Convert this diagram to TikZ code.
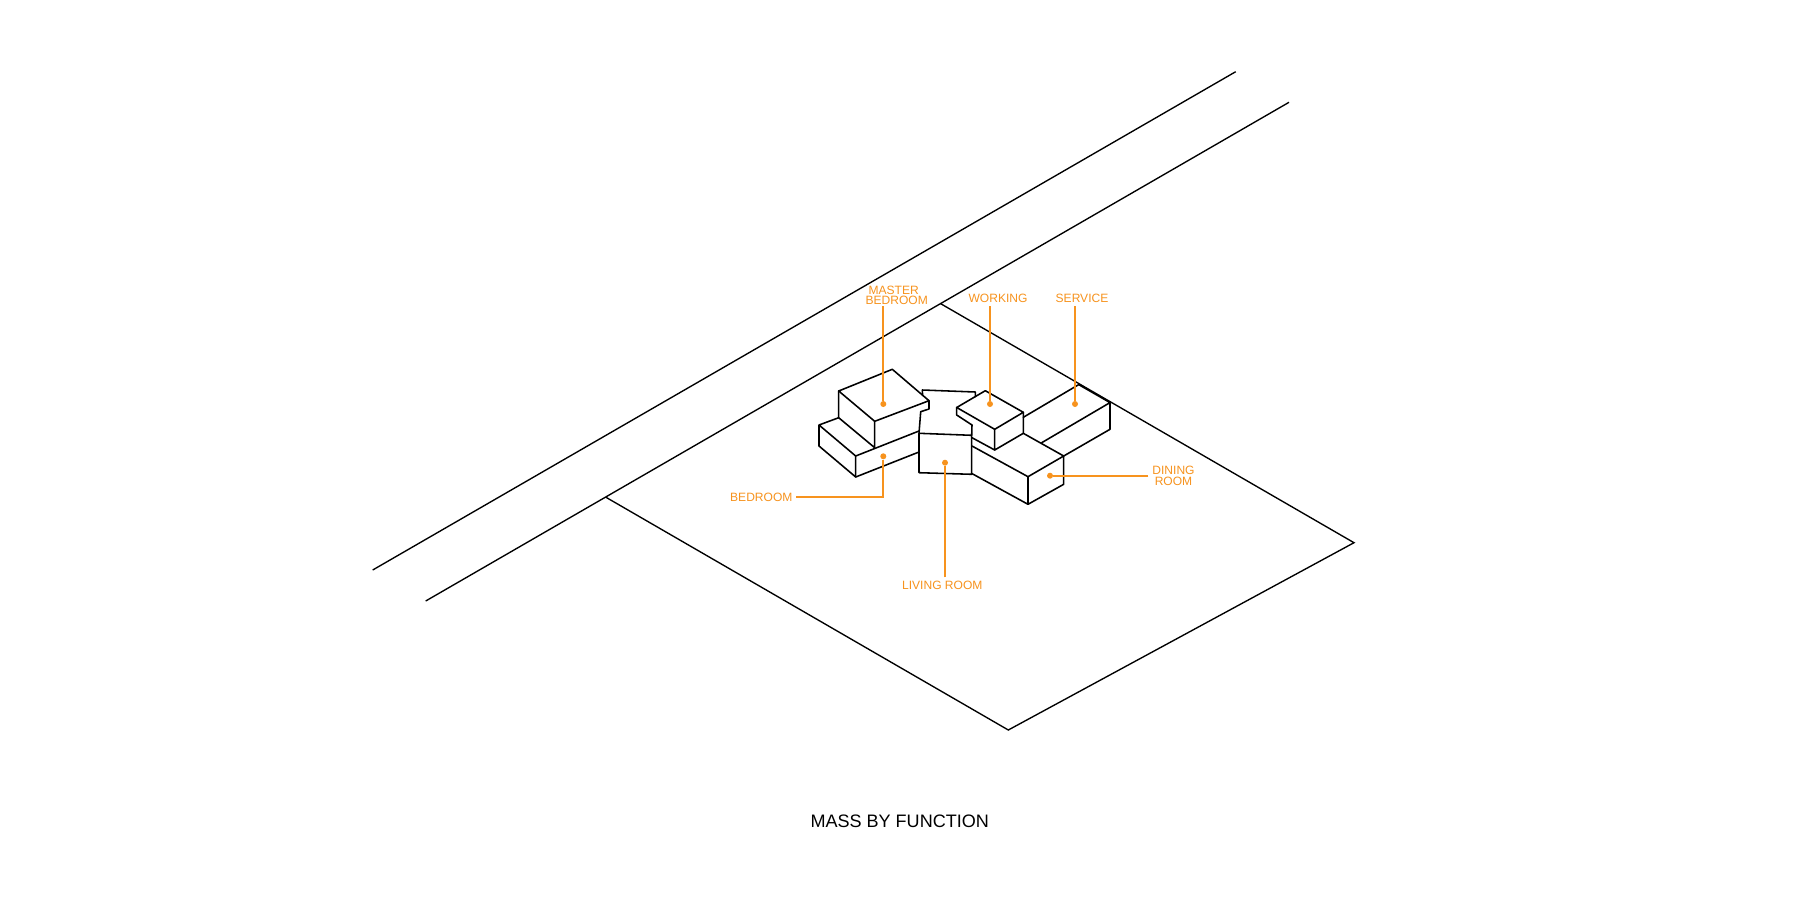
\documentclass[tikz,border=0pt]{standalone}
\usepackage{fontspec}
\setmainfont{Liberation Sans}
\definecolor{lead}{HTML}{F7931E}
\tikzset{
  massline/.style={draw=black,line width=0.78pt,line join=round,line cap=round},
  siteline/.style={draw=black,line width=0.68pt,line join=miter,line cap=butt},
  leader/.style={draw=lead,line width=0.85pt,line join=miter},
  leaderdot/.style={circle,fill=lead,inner sep=0pt,minimum size=3pt},
  tag/.style={text=lead,inner sep=0pt,align=center,font=\fontsize{6.02}{5.35}\selectfont},
  headline/.style={text=black,inner sep=0pt,font=\fontsize{9.02}{10}\selectfont}
}
\begin{document}
\begin{tikzpicture}[x=0.5pt,y=-0.5pt]
\useasboundingbox[fill=white] (0,0) rectangle (1800,900);
% street and site
\coordinate (s1a) at (372.7,570); \coordinate (s1b) at (1235.7,71.7);
\coordinate (s2a) at (425.7,601); \coordinate (s2b) at (1289,102.3);
\coordinate (pw) at (606,497.3); \coordinate (pn) at (940.7,303.7);
\coordinate (pe) at (1354,542.7); \coordinate (ps) at (1008.3,730);
\draw[siteline] (s1a) -- (s1b);
\draw[siteline] (s2a) -- (s2b);
\draw[siteline] (pn) -- (pe) -- (ps) -- (pw);
% service
\coordinate (sa) at (1023.3,417.3); \coordinate (sb) at (1078.7,384.6);
\coordinate (sc) at (1110,402.6); \coordinate (sd) at (1041.7,442.7);
\coordinate (se) at (1110,429.3); \coordinate (sf) at (1063.7,456);
\draw[massline] (sa) -- (sb) -- (sc) -- (sd);
\draw[massline] (sc) -- (se) -- (sf);
% dining
\coordinate (da) at (972,446); \coordinate (db) at (1028,476.7);
\coordinate (dc) at (1063.7,456); \coordinate (dd) at (1023.3,433.3);
\coordinate (de) at (1028,504.3); \coordinate (df) at (1063.7,484.3);
\coordinate (dg) at (972,473.6);
\draw[massline] (da) -- (db) -- (dc) -- (dd);
\draw[massline] (db) -- (de) -- (df) -- (dc);
\draw[massline] (dg) -- (de);
% working
\coordinate (wa) at (956.7,407.5); \coordinate (wb) at (985.3,390.7);
\coordinate (wc) at (1023.3,412.3); \coordinate (wd) at (994.7,429.3);
\coordinate (we) at (956.7,415); \coordinate (wf) at (994.7,450);
\coordinate (wg) at (1023.3,433.3); \coordinate (wh) at (972,425);
\coordinate (wi) at (972,437.7);
\draw[massline] (wa) -- (wb) -- (wc) -- (wd) -- cycle;
\draw[massline] (wd) -- (wf) -- (wg) -- (wc);
\draw[massline] (wi) -- (wf);
% living room and its neck
\coordinate (la) at (919,433.3); \coordinate (lb) at (971.7,435.3);
\coordinate (lc) at (971.7,474.3); \coordinate (ld) at (919,472.7);
\coordinate (na) at (920.7,411.7); \coordinate (nb) at (929,409);
\coordinate (nc) at (929,400.7); \coordinate (nd) at (922.3,390);
\coordinate (ne) at (975.3,392); \coordinate (nf) at (975.3,396.7);
\draw[massline] (la) -- (lb) -- (lc) -- (ld) -- cycle;
\draw[massline] (la) -- (na) -- (nb) -- (nc);
\draw[massline] (nd) -- (ne) -- (nf);
\draw[massline] (nd) -- (922.6,395.5);
\draw[massline] (wa) -- (we) -- (wh) -- (lb);
% master bedroom
\coordinate (ma) at (838.7,391); \coordinate (mb) at (892.3,369.3);
\coordinate (mc) at (929,400.7); \coordinate (md) at (874.7,421.3);
\coordinate (me) at (838.7,417.7); \coordinate (mf) at (874.7,447.7);
\draw[massline] (ma) -- (mb) -- (mc) -- (md) -- cycle;
\draw[massline] (ma) -- (me) -- (mf) -- (md);
% bedroom
\coordinate (ba) at (819,425); \coordinate (bb) at (855.7,456);
\coordinate (bc) at (855.7,477); \coordinate (bd) at (819,446);
\coordinate (be) at (919,431); \coordinate (bf) at (919,452);
\draw[massline] (me) -- (ba) -- (bb) -- (bc) -- (bd) -- (ba);
\draw[massline] (bb) -- (be);
\draw[massline] (bc) -- (bf);
% labels
\node[tag] (lmaster) at (896.7,295.3) {MASTER\hspace*{3pt}\\BEDROOM};
\node[tag] (lwork) at (998,298.3) {WORKING};
\node[tag] (lserv) at (1082,298.3) {SERVICE};
\node[tag] (lbed) at (761.3,497.6) {BEDROOM};
\node[tag] (lliv) at (942.3,585.8) {LIVING ROOM};
\node[tag] (ldin) at (1173.5,476) {DINING\\ROOM};
\node[headline] (title) at (899.7,821.7) {MASS BY FUNCTION};
% leaders
\node[leaderdot] (dmaster) at (883.3,404) {};
\node[leaderdot] (dwork) at (990,404) {};
\node[leaderdot] (dserv) at (1075,404) {};
\node[leaderdot] (dbed) at (883.3,456.3) {};
\node[leaderdot] (dliv) at (945,462.7) {};
\node[leaderdot] (ddin) at (1050,475.7) {};
\coordinate (emaster) at (883.3,306);
\coordinate (ework) at (990,306);
\coordinate (eserv) at (1075,306);
\coordinate (ebed) at (796,497.3);
\coordinate (eliv) at (945,577.3);
\coordinate (edin) at (1148.3,475.7);
\draw[leader] (emaster) -- (dmaster);
\draw[leader] (ework) -- (dwork);
\draw[leader] (eserv) -- (dserv);
\draw[leader] (ebed) -| (dbed);
\draw[leader] (eliv) -- (dliv);
\draw[leader] (edin) -- (ddin);
\end{tikzpicture}
\end{document}
